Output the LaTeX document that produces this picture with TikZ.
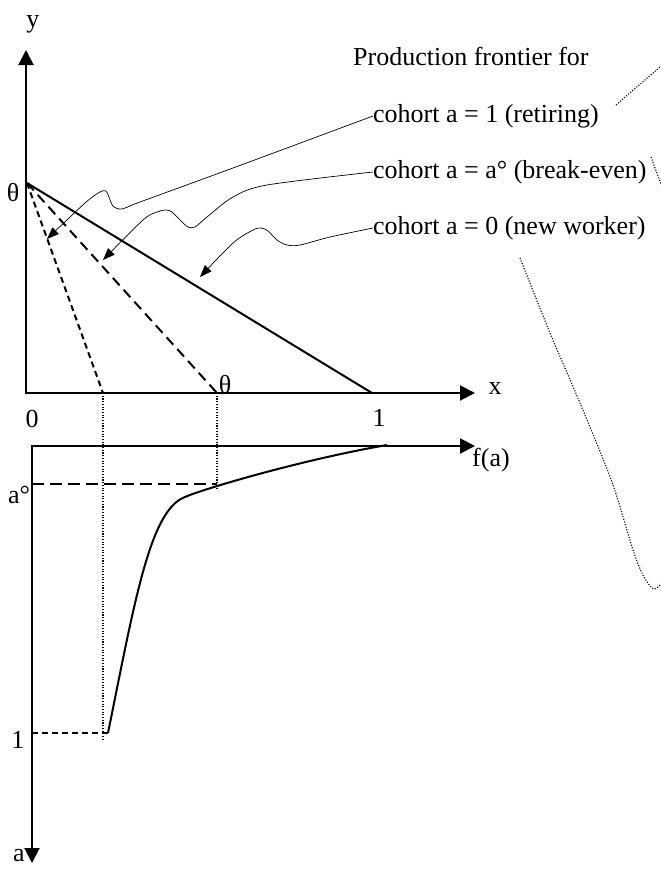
\documentclass[tikz,border=0pt]{standalone}
\usepackage{fontspec}
\setmainfont{Liberation Serif}
\usetikzlibrary{arrows.meta}
\tikzset{
  ax/.style={{Triangle[length=15pt,width=15pt]}-{Triangle[length=15pt,width=15pt]},line width=2pt},
  lead/.style={-{Triangle[length=12pt,width=9pt]},line width=0.7pt},
  dotline/.style={line width=1.1pt,dash pattern=on 1.1pt off 1.6pt},
  lbl/.style={inner sep=0pt}
}
\begin{document}
\begin{tikzpicture}[x=1pt,y=-1pt,font=\fontsize{26}{30}\selectfont]
\clip (0,0) rectangle (661,871);
% upper panel: production frontiers
\coordinate (O) at (26,393);
\coordinate (Ytip) at (26,50);
\coordinate (Xtip) at (475,393);
\coordinate (T) at (27,183);
\coordinate (D) at (103,393);
\coordinate (Tx) at (217,393);
\coordinate (X1) at (372,393);
\draw[ax] (Ytip) -- (O) -- (Xtip);
\draw[line width=2pt] (T) -- (X1);
\draw[line width=2pt,dash pattern=on 10pt off 6pt] (T) -- (Tx);
\draw[line width=2pt,dash pattern=on 6pt off 4pt] (T) -- (D);
\node[lbl] (ylab) at (33,24) {y};
\node[lbl] (xlab) at (495,389) {x};
\node[lbl] (th1) at (13,193) {θ};
\node[lbl] (th2) at (225,385) {θ};
\node[lbl] (zero) at (32,419) {0};
\node[lbl] (onex) at (379,418) {1};
% legend
\node[lbl,anchor=west] (hd) at (353,56) {Production frontier for};
\node[lbl,anchor=west] (c1) at (373,116) {cohort a = 1 (retiring)};
\node[lbl,anchor=west] (c2) at (373,172) {cohort a = a° (break-even)};
\node[lbl,anchor=west] (c3) at (373,228) {cohort a = 0 (new worker)};
\draw[lead] plot[smooth] coordinates {(c1.west) (233,168) (140,202) (122,209) (113,206) (109,197) (106,191) (100,192) (85,203) (47,239)};
\draw[lead] plot[smooth] coordinates {(c2.west) (267,185) (233,197) (207,217) (195,227) (188,227) (180,220) (172,212) (166,210) (157,212) (143,220) (103,260)};
\draw[lead] plot[smooth] coordinates {(c3.west) (330,237) (300,245) (287,245) (277,240) (268,231) (261,228) (253,230) (233,243) (200,277)};
% dotted pieces on the right
\draw[dotline] (616,105) -- (675,54);
\draw[dotline] (651,157) -- (665,195);
\draw[dotline] plot[smooth] coordinates {(520,258) (550,333) (580,403) (612,482) (633,550) (644,577) (654,589) (663,582)};
% lower panel: f(a)
\coordinate (P) at (32,446);
\coordinate (Atip) at (32,863);
\coordinate (Ftip) at (475,446);
\coordinate (Ao) at (32,484);
\coordinate (Ac) at (217,484);
\coordinate (A1) at (32,733);
\coordinate (C1) at (108,733);
\draw[ax] (Atip) -- (P) -- (Ftip);
\draw[line width=2pt,dash pattern=on 12pt off 6pt] (Ao) -- (Ac);
\draw[line width=1.5pt,dash pattern=on 6pt off 4pt] (A1) -- (C1);
\draw[dotline] (D) -- (103,740);
\draw[dotline] (Tx) -- (217,490);
\draw[line width=2pt] (C1) .. controls (135,600) and (150,510) .. (185,497)
  .. controls (200,490) and (300,460) .. (387,445);
\node[lbl] (fa) at (491,460) {f(a)};
\node[lbl] (aolab) at (19,495) {a°};
\node[lbl] (onea) at (18,740) {1};
\node[lbl] (alab) at (19,856) {a};
\end{tikzpicture}
\end{document}
